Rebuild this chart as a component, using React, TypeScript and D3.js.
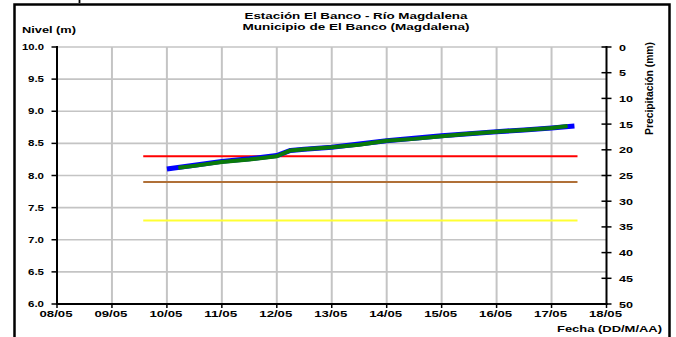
import React from "react";
import * as d3 from "d3";

const parse = d3.timeParse("%Y-%m-%d %H:%M");

const titleLines = ["Estación El Banco - Río Magdalena", "Municipio de El Banco (Magdalena)"];
const leftTicks = [6.0, 6.5, 7.0, 7.5, 8.0, 8.5, 9.0, 9.5, 10.0];
const rightTicks = [0, 5, 10, 15, 20, 25, 30, 35, 40, 45, 50];
const dayTicks = ["2020-05-08", "2020-05-09", "2020-05-10", "2020-05-11", "2020-05-12", "2020-05-13", "2020-05-14", "2020-05-15", "2020-05-16", "2020-05-17", "2020-05-18"];

const blueTimes = [
  "2020-05-10 00:00", "2020-05-10 12:00", "2020-05-11 00:00", "2020-05-11 12:00",
  "2020-05-12 00:00", "2020-05-12 06:00", "2020-05-12 12:00", "2020-05-13 00:00",
  "2020-05-13 12:00", "2020-05-14 00:00", "2020-05-14 12:00", "2020-05-15 00:00",
  "2020-05-15 12:00", "2020-05-16 00:00", "2020-05-16 12:00", "2020-05-17 00:00",
  "2020-05-17 10:00",
];
const blueValues = [8.10, 8.16, 8.22, 8.26, 8.31, 8.39, 8.41, 8.44, 8.49, 8.54, 8.58, 8.62, 8.65, 8.68, 8.71, 8.74, 8.77];

const greenTimes = [
  "2020-05-10 05:00", "2020-05-10 12:00", "2020-05-11 00:00", "2020-05-11 12:00",
  "2020-05-12 00:00", "2020-05-12 06:00", "2020-05-12 12:00", "2020-05-13 00:00",
  "2020-05-13 12:00", "2020-05-14 00:00", "2020-05-14 12:00", "2020-05-15 00:00",
  "2020-05-15 12:00", "2020-05-16 00:00", "2020-05-16 12:00", "2020-05-17 00:00",
  "2020-05-17 07:00",
];
const greenValues = [8.12, 8.15, 8.21, 8.25, 8.30, 8.39, 8.41, 8.44, 8.48, 8.54, 8.57, 8.61, 8.65, 8.68, 8.71, 8.74, 8.77];

const thresholdStart = "2020-05-09 13:40";
const thresholdEnd = "2020-05-17 11:20";
const thresholdValues = [8.3, 7.9, 7.3];
const thresholdColors = ["#ff0000", "#b07038", "#ffff33"];

const FONT = "'Liberation Sans', Arial, sans-serif";

export default function App() {
  const x = d3.scaleTime()
    .domain([parse("2020-05-08 00:00")!, parse("2020-05-18 00:00")!])
    .range([57, 606.5]);
  const y = d3.scaleLinear().domain([6, 10]).range([304, 47]);
  const yr = d3.scaleLinear().domain([0, 50]).range([47, 304]);
  const fmt = d3.timeFormat("%d/%m");

  const line = d3.line<[Date, number]>().x((d) => x(d[0])).y((d) => y(d[1]));
  const blue = blueTimes.map((t, i) => [parse(t)!, blueValues[i]] as [Date, number]);
  const green = greenTimes.map((t, i) => [parse(t)!, greenValues[i]] as [Date, number]);
  const days = dayTicks.map((d) => parse(d + " 00:00")!);
  const t0 = x(parse(thresholdStart)!);
  const t1 = x(parse(thresholdEnd)!);

  return (
    <svg width={676} height={337} style={{ position: "absolute", left: 0, top: 0, background: "#fff" }} fontFamily={FONT} fontWeight="bold">
      <rect width={676} height={337} fill="#fff" />
      <line x1={79.5} x2={79.5} y1={0} y2={3} stroke="#000" strokeWidth={1.8} />
      {/* frame */}
      <path d="M14.5,337 L14.5,4.5 L669.5,4.5 L669.5,337" fill="none" stroke="#000" strokeWidth={2.5} />
      {/* titles */}
      <text x={356} y={18.5} textAnchor="middle" fontSize={9.5} textLength={223} lengthAdjust="spacingAndGlyphs">{titleLines[0]}</text>
      <text x={356} y={29.5} textAnchor="middle" fontSize={9.5} textLength={227} lengthAdjust="spacingAndGlyphs">{titleLines[1]}</text>
      <text x={22} y={33} fontSize={9} textLength={54} lengthAdjust="spacingAndGlyphs">Nivel (m)</text>
      {/* grid */}
      {leftTicks.filter((v) => v > 6).map((v) => (
        <line key={"h" + v} x1={57} x2={606.5} y1={y(v)} y2={y(v)} stroke="#c4c4c4" strokeWidth={1.6} />
      ))}
      {days.slice(1, -1).map((d, i) => (
        <line key={"v" + i} x1={x(d)} x2={x(d)} y1={47} y2={304} stroke="#c4c4c4" strokeWidth={2} />
      ))}
      {/* thresholds */}
      {thresholdValues.map((v, i) => (
        <line key={"t" + i} x1={t0} x2={t1} y1={y(v)} y2={y(v)} stroke={thresholdColors[i]} strokeWidth={2} />
      ))}
      {/* series */}
      <path d={line(blue)!} fill="none" stroke="#0000ff" strokeWidth={5} strokeLinejoin="round" />
      <path d={line(green)!} fill="none" stroke="#0a7a0a" strokeWidth={4} strokeLinejoin="round" />
      {/* left axis */}
      <line x1={57} x2={57} y1={46} y2={305} stroke="#000" strokeWidth={2} />
      {leftTicks.map((v) => (
        <g key={"l" + v}>
          <line x1={51.5} x2={57} y1={y(v)} y2={y(v)} stroke="#000" strokeWidth={1.5} />
          <text x={44} y={y(v) + 3} textAnchor="end" fontSize={8.5} textLength={v >= 10 ? 22 : 16} lengthAdjust="spacingAndGlyphs">{v.toFixed(1)}</text>
        </g>
      ))}
      {/* bottom axis */}
      <line x1={56} x2={607.5} y1={304} y2={304} stroke="#000" strokeWidth={2} />
      {days.map((d, i) => (
        <g key={"x" + i}>
          <line x1={x(d)} x2={x(d)} y1={304} y2={308} stroke="#000" strokeWidth={1.5} />
          <text x={x(d) - 1} y={317} textAnchor="middle" fontSize={8.5} textLength={33} lengthAdjust="spacingAndGlyphs">{fmt(d)}</text>
        </g>
      ))}
      <text x={662} y={332} textAnchor="end" fontSize={9} textLength={105} lengthAdjust="spacingAndGlyphs">Fecha (DD/M/AA)</text>
      {/* right axis */}
      <line x1={606.5} x2={606.5} y1={46} y2={305} stroke="#000" strokeWidth={2} />
      {rightTicks.map((v) => (
        <g key={"r" + v}>
          <line x1={601.5} x2={611.5} y1={yr(v)} y2={yr(v)} stroke="#000" strokeWidth={1.5} />
          <text x={619} y={yr(v) + 3.5} fontSize={9} textLength={v >= 10 ? 14 : 7} lengthAdjust="spacingAndGlyphs">{v}</text>
        </g>
      ))}
      <text transform="translate(653,135) rotate(-90)" fontSize={10} textLength={93} lengthAdjust="spacingAndGlyphs">Precipitación (mm)</text>
    </svg>
  );
}
